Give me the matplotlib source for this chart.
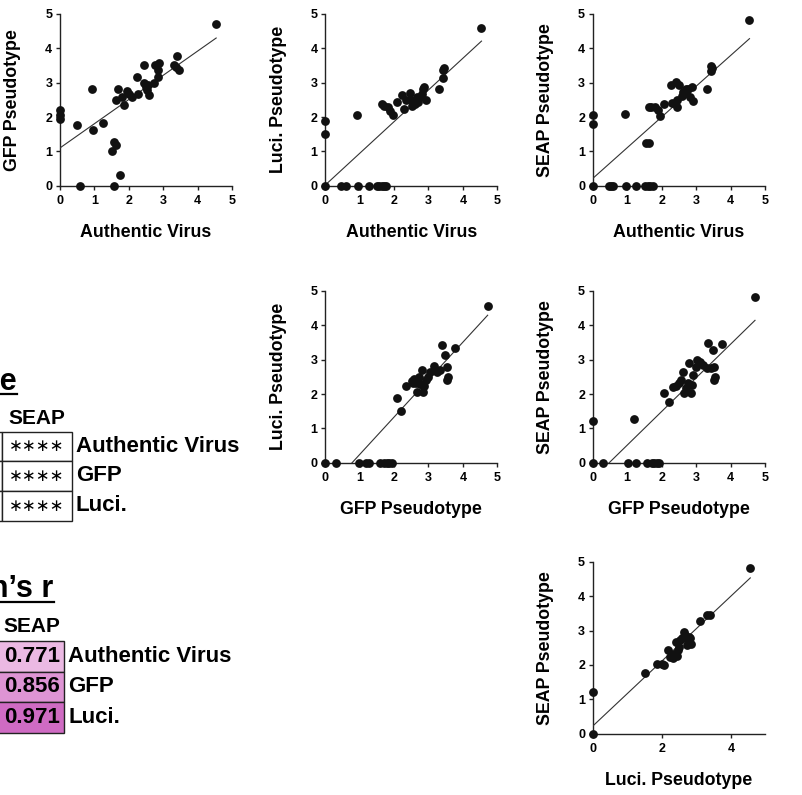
import matplotlib
matplotlib.use("Agg")
import matplotlib.pyplot as plt
from matplotlib.patches import Rectangle
from matplotlib.lines import Line2D
import numpy as np

plt.rcParams['font.family'] = ['Liberation Sans', 'DejaVu Sans']

# ---------------- data ----------------
# Authentic Virus vs GFP Pseudotype
av_gfp_x = [4.54, 0, 0, 0, 0.48, 0.93, 0.96, 1.25, 1.51, 1.58, 1.64, 1.73, 1.57, 0.59,
            1.70, 1.63, 1.86, 1.80, 1.94, 2.02, 2.10, 2.23, 2.28, 2.45, 2.43, 2.50, 2.57,
            2.60, 2.72, 2.77, 2.89, 2.84, 2.86, 3.30, 3.40, 3.45, 3.37, 2.53]
av_gfp_y = [4.71, 2.20, 2.06, 1.93, 1.77, 2.83, 1.62, 1.83, 1.01, 1.28, 1.18, 0.31, 0, 0,
            2.83, 2.51, 2.35, 2.59, 2.77, 2.66, 2.57, 3.16, 2.66, 3.51, 3.00, 2.86, 2.93,
            2.64, 3.00, 3.51, 3.58, 3.37, 3.17, 3.51, 3.78, 3.37, 3.47, 2.79]
# Authentic Virus vs Luci. Pseudotype
av_luci_x = [4.54, 0, 0, 0.93, 0, 0.47, 0.60, 0.95, 1.26, 1.51, 1.57, 1.65, 1.71, 1.76,
             1.65, 1.72, 1.83, 1.88, 1.98, 2.07, 2.22, 2.29, 2.36, 2.46, 2.51, 2.61, 2.66,
             2.70, 2.80, 2.85, 2.88, 2.92, 2.48, 2.75, 3.31, 3.41, 3.41, 3.46]
av_luci_y = [4.58, 1.89, 1.52, 2.06, 0, 0, 0, 0, 0, 0, 0, 0, 0, 0,
             2.38, 2.32, 2.28, 2.17, 2.06, 2.45, 2.64, 2.22, 2.50, 2.69, 2.32, 2.38, 2.59,
             2.45, 2.67, 2.81, 2.86, 2.50, 2.50, 2.59, 2.81, 3.13, 3.37, 3.42]
# Authentic Virus vs SEAP Pseudotype
av_seap_x = [4.55, 0, 0, 0.94, 0, 0.46, 0.52, 0.60, 0.97, 1.26, 1.53, 1.61, 1.66, 1.76,
             1.55, 1.64, 1.62, 1.68, 1.81, 1.89, 1.95, 2.08, 2.26, 2.29, 2.42, 2.46, 2.50,
             2.58, 2.63, 2.70, 2.78, 2.82, 2.89, 2.92, 2.71, 2.44, 3.31, 3.42, 3.42, 3.45]
av_seap_y = [4.83, 2.05, 1.79, 2.09, 0, 0, 0, 0, 0, 0, 0, 0, 0, 0,
             1.25, 1.25, 2.28, 2.28, 2.30, 2.20, 2.03, 2.38, 2.93, 2.42, 3.03, 2.28, 2.93,
             2.61, 2.74, 2.81, 2.83, 2.59, 2.88, 2.48, 2.70, 2.50, 2.81, 3.35, 3.49, 3.42]
# GFP Pseudotype vs Luci. Pseudotype
gfp_luci_x = [4.72, 0, 0.32, 0.98, 1.18, 1.27, 1.59, 1.71, 1.78, 1.85, 1.94, 2.07, 2.19,
              2.34, 2.51, 2.58, 2.65, 2.67, 2.75, 2.82, 2.85, 2.88, 2.93, 2.99, 3.04, 3.16,
              3.24, 3.33, 3.38, 3.48, 3.53, 3.55, 3.58, 3.77, 2.73, 2.56]
gfp_luci_y = [4.57, 0, 0, 0, 0, 0, 0, 0, 0, 0, 0, 1.89, 1.50,
              2.23, 2.39, 2.43, 2.31, 2.07, 2.29, 2.70, 2.07, 2.23, 2.41, 2.50, 2.65, 2.83,
              2.65, 2.70, 3.43, 3.14, 2.78, 2.41, 2.50, 3.33, 2.50, 2.31]
# GFP Pseudotype vs SEAP Pseudotype
gfp_seap_x = [4.71, 0, 1.20, 0, 0.31, 1.01, 1.26, 1.59, 1.71, 1.78, 1.86, 1.93,
              2.08, 2.20, 2.32, 2.42, 2.50, 2.56, 2.61, 2.65, 2.71, 2.80, 2.84, 2.87, 2.92,
              2.99, 3.02, 3.11, 3.19, 3.31, 3.36, 3.42, 3.48, 3.53, 3.55, 3.53, 3.76, 2.78]
gfp_seap_y = [4.82, 1.21, 1.26, 0, 0, 0, 0, 0, 0, 0, 0, 0,
              2.04, 1.78, 2.21, 2.23, 2.31, 2.41, 2.65, 2.02, 2.17, 2.91, 2.04, 2.26, 2.55,
              2.78, 2.99, 2.94, 2.84, 2.75, 3.50, 2.75, 3.28, 2.80, 2.50, 2.41, 3.46, 2.31]
# Luci. Pseudotype vs SEAP Pseudotype
luci_seap_x = [4.56, 0, 0, 1.52, 1.87, 2.00, 2.07, 2.19, 2.24, 2.32, 2.36, 2.42, 2.45,
               2.48, 2.51, 2.58, 2.63, 2.66, 2.71, 2.72, 2.77, 2.80, 2.84, 2.82, 2.53,
               3.11, 3.32, 3.40]
luci_seap_y = [4.81, 1.22, 0, 1.77, 2.03, 2.03, 2.00, 2.43, 2.24, 2.19, 2.31, 2.67, 2.26,
               2.43, 2.53, 2.77, 2.97, 2.87, 2.77, 2.58, 2.72, 2.82, 2.62, 2.77, 2.72,
               3.28, 3.44, 3.45]

# linear regression lines
fit_slope = [0.705, 0.923, 0.895, 1.09, 0.98, 0.945]
fit_intercept = [1.10, 0.02, 0.21, -0.85, -0.47, 0.22]

x_labels = ["Authentic Virus", "Authentic Virus", "Authentic Virus",
            "GFP Pseudotype", "GFP Pseudotype", "Luci. Pseudotype"]
y_labels = ["GFP Pseudotype", "Luci. Pseudotype", "SEAP Pseudotype",
            "Luci. Pseudotype", "SEAP Pseudotype", "SEAP Pseudotype"]

sig_title = "Significance"
sig_header = "SEAP"
sig_values = ["∗∗∗∗", "∗∗∗∗", "∗∗∗∗"]
row_labels = ["Authentic Virus", "GFP", "Luci."]
r_title = "Pearson’s r"
r_header = "SEAP"
r_values = [0.771, 0.856, 0.971]
r_colors = ["#EBB9E3", "#DE94D4", "#CF6BC3"]

# ---------------- figure ----------------
W, H = 803, 795
fig = plt.figure(figsize=(W / 100, H / 100), dpi=100)

def add_ax(x0, x5, y0, y5):
    return fig.add_axes([x0 / W, 1 - y0 / H, (x5 - x0) / W, (y0 - y5) / H])

boxes = [(60, 232, 185.7, 14), (325.3, 497.3, 185.7, 14), (592.7, 765, 185.7, 14),
         (325.3, 497.3, 462.7, 291), (592.7, 765, 462.7, 291),
         (592.7, 765.5, 733.7, 561.7)]
datasets = [(av_gfp_x, av_gfp_y), (av_luci_x, av_luci_y), (av_seap_x, av_seap_y),
            (gfp_luci_x, gfp_luci_y), (gfp_seap_x, gfp_seap_y), (luci_seap_x, luci_seap_y)]

for i, (box, (xs, ys)) in enumerate(zip(boxes, datasets)):
    ax = add_ax(*box)
    ax.set_xlim(0, 5)
    ax.set_ylim(0, 5)
    for s in ['top', 'right']:
        ax.spines[s].set_visible(False)
    for s in ['left', 'bottom']:
        ax.spines[s].set_linewidth(1.0)
        ax.spines[s].set_color('#222222')
    ax.scatter(xs, ys, s=40, color='#111111', zorder=4, clip_on=False, linewidths=0)
    xx = np.array([min(xs), max(xs)])
    ax.plot(xx, fit_slope[i] * xx + fit_intercept[i], color='#333333', lw=0.8, zorder=3)
    ax.set_yticks([0, 1, 2, 3, 4, 5])
    if i == 5:
        ax.set_xticks([0, 2, 4])
    else:
        ax.set_xticks([0, 1, 2, 3, 4, 5])
    ax.tick_params(axis='both', direction='out', length=3, width=1.0, color='#222222',
                   labelsize=9)
    ax.tick_params(axis='x', pad=4)
    ax.tick_params(axis='y', pad=2.5)
    for lab in ax.get_xticklabels() + ax.get_yticklabels():
        lab.set_fontweight('bold')
    ax.set_xlabel(x_labels[i], fontsize=12.8, fontweight='bold')
    ax.set_ylabel(y_labels[i], fontsize=12.8, fontweight='bold')
    ax.xaxis.set_label_coords(0.5, -0.225)
    ax.yaxis.set_label_coords(-0.225, 0.5)

def fx(x):
    return x / W

def fy(y):
    return 1 - y / H

def cell(x0, x1, y0, y1, fc='white'):
    fig.add_artist(Rectangle((fx(x0), fy(y1)), (x1 - x0) / W, (y1 - y0) / H,
                             transform=fig.transFigure, facecolor=fc,
                             edgecolor='#222222', linewidth=1.0))

# Significance table (cropped at the left edge, as in the reference)
fig.text(fx(17), fy(390), sig_title, ha='right', va='baseline', fontsize=22,
         fontweight='bold')
fig.add_artist(Line2D([fx(-300), fx(17)], [fy(393.5), fy(393.5)],
                      transform=fig.transFigure, color='black', lw=1.6))
fig.text(fx(36.7), fy(418), sig_header, ha='center', va='center', fontsize=15,
         fontweight='bold')
sig_rows = [431.7, 461, 490.7, 521]
for k in range(3):
    cell(-68, 1.7, sig_rows[k], sig_rows[k + 1])
    cell(1.7, 71.7, sig_rows[k], sig_rows[k + 1])
    yc = (sig_rows[k] + sig_rows[k + 1]) / 2
    fig.text(fx(36.7), fy(yc), sig_values[k], ha='center', va='center', fontsize=12,
             family=['DejaVu Sans'])
    fig.text(fx(76), fy(yc), row_labels[k], ha='left', va='center', fontsize=16,
             fontweight='bold')

# Pearson's r table
fig.text(fx(53), fy(597), r_title, ha='right', va='baseline', fontsize=22,
         fontweight='bold')
fig.add_artist(Line2D([fx(-300), fx(54)], [fy(601.7), fy(601.7)],
                      transform=fig.transFigure, color='black', lw=1.6))
fig.text(fx(31.5), fy(627), r_header, ha='center', va='center', fontsize=15,
         fontweight='bold')
r_rows = [641, 671.7, 701.7, 733.3]
for k in range(3):
    cell(-2, 64.3, r_rows[k], r_rows[k + 1], fc=r_colors[k])
    yc = (r_rows[k] + r_rows[k + 1]) / 2
    fig.text(fx(32), fy(yc), f"{r_values[k]:.3f}", ha='center', va='center',
             fontsize=16, fontweight='bold')
    fig.text(fx(68), fy(yc), row_labels[k], ha='left', va='center', fontsize=16,
             fontweight='bold')

fig.savefig("out.png", dpi=100)
